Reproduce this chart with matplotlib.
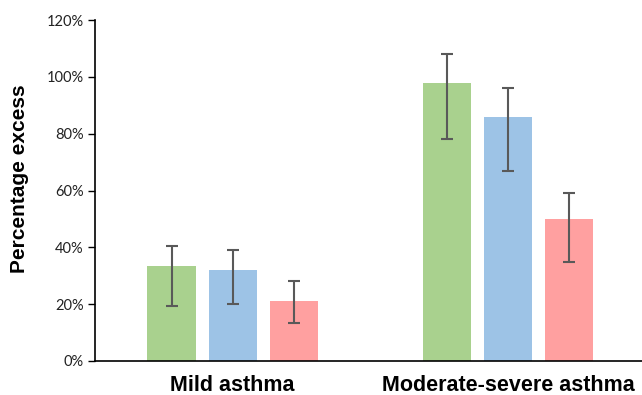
import matplotlib
matplotlib.use("Agg")
import matplotlib.pyplot as plt
import numpy as np

categories = ["Mild asthma", "Moderate-severe asthma"]
series_names = ["Series 1", "Series 2", "Series 3"]
values = [[33.5, 98.0], [32.0, 86.0], [21.0, 50.0]]
err_low = [[19.5, 78.0], [20.0, 67.0], [13.5, 35.0]]
err_high = [[40.5, 108.0], [39.0, 96.0], [28.0, 59.0]]
colors = ["#A9D18E", "#9DC3E6", "#FFA0A0"]
yticks = [0, 20, 40, 60, 80, 100, 120]

fig = plt.figure(figsize=(6.42, 3.95), dpi=100)
ax = fig.add_axes([95/642, 1-361/395, (645.5-95)/642, (361-20)/395])

x = np.arange(len(categories))
offset = 0.222
width = 0.175
for i, (vals, lo, hi, c) in enumerate(zip(values, err_low, err_high, colors)):
    xs = x + (i - 1) * offset
    vals = np.array(vals)
    yerr = [vals - np.array(lo), np.array(hi) - vals]
    ax.bar(xs, vals, width=width, color=c, zorder=1)
    ax.errorbar(xs, vals, yerr=yerr, fmt="none", ecolor="#595959",
                elinewidth=1.5, capsize=4, capthick=1.5, zorder=2)

ax.set_xlim(-0.5, 1.5)
ax.set_ylim(0, 120)
ax.set_yticks(yticks)
ax.set_yticklabels([f"{t}%" for t in yticks], fontsize=10.5, family="Lato", color="#222222")
ax.set_xticks(x)
ax.set_xticklabels(categories, fontsize=15.5, fontweight="bold", family="Liberation Sans")
ax.tick_params(axis="x", length=0, pad=10)
ax.tick_params(axis="y", length=5, width=1, direction="out", pad=3)
ax.set_ylabel("Percentage excess", fontsize=15, fontweight="bold", family="Liberation Sans")
ax.yaxis.set_label_coords(-0.12, 0.534)
for s in ["top", "right"]:
    ax.spines[s].set_visible(False)
for s in ["left", "bottom"]:
    ax.spines[s].set_linewidth(1.2)

fig.savefig("out.png", dpi=100)
